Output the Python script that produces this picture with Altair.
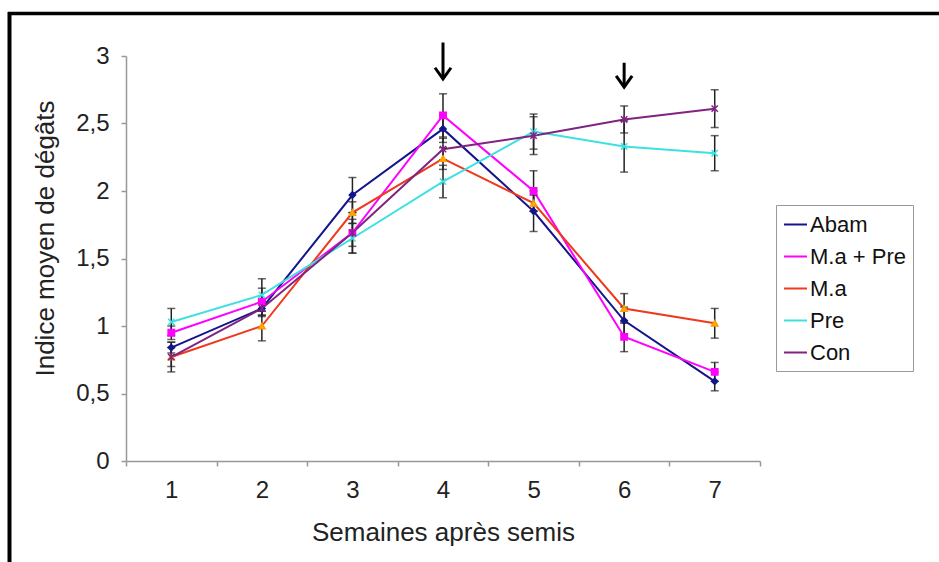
import altair as alt
import pandas as pd

weeks = ["1", "2", "3", "4", "5", "6", "7"]
series_names = ["Abam", "M.a + Pre", "M.a", "Pre", "Con"]

abam = [0.84, 1.13, 1.97, 2.46, 1.85, 1.04, 0.59]
mapre = [0.95, 1.18, 1.69, 2.56, 2.00, 0.92, 0.66]
ma = [0.77, 1.00, 1.84, 2.24, 1.91, 1.13, 1.02]
pre = [1.03, 1.23, 1.65, 2.07, 2.44, 2.33, 2.28]
con = [0.77, 1.13, 1.69, 2.31, 2.41, 2.53, 2.61]

abam_err = [0.04, 0.05, 0.13, 0.10, 0.15, 0.10, 0.07]
mapre_err = [0.05, 0.10, 0.10, 0.16, 0.15, 0.11, 0.07]
ma_err = [0.11, 0.11, 0.08, 0.08, 0.06, 0.11, 0.11]
pre_err = [0.10, 0.12, 0.11, 0.12, 0.13, 0.19, 0.13]
con_err = [0.07, 0.06, 0.15, 0.08, 0.14, 0.10, 0.14]

arrow_weeks = ["4", "6"]
arrow_top = [3.10, 2.95]
arrow_tip = [2.83, 2.77]

line_colors = ["#14148c", "#ff00ff", "#f0381c", "#3ee0e0", "#7f2480"]
marker_fill = ["#14148c", "#ff00ff", "#ffb400", "#3ee0e0", "#7f2480"]
marker_stroke = ["#14148c", "#ff00ff", "#ff9a00", "#3ee0e0", "#7f2480"]
marker_shapes = [
    "diamond",
    "square",
    "triangle-up",
    "M-1,-1L1,1M-1,1L1,-1",
    "M-1,-1L1,1M-1,1L1,-1M0,-1.3L0,1.3",
]

rows = []
for name, vals, errs in zip(series_names, [abam, mapre, ma, pre, con],
                            [abam_err, mapre_err, ma_err, pre_err, con_err]):
    for w, v, e in zip(weeks, vals, errs):
        rows.append({"week": w, "serie": name, "marker": name, "val": v,
                     "lo": v - e, "hi": v + e})
df = pd.DataFrame(rows)

arrows = pd.DataFrame({"week": arrow_weeks, "top": arrow_top, "tip": arrow_tip})

font = "Liberation Sans"

xenc = alt.X(
    "week:O",
    bandPosition=0.5,
    scale=alt.Scale(type="band", domain=weeks, paddingInner=0, paddingOuter=0),
    axis=alt.Axis(
        title="Semaines après semis",
        labelAngle=0,
        tickBand="extent",
        tickSize=5,
        labelPadding=12,
        titlePadding=17,
        domainColor="#999999",
        tickColor="#999999",
        domainWidth=1.5,
        tickWidth=1.5,
        labelFontSize=24,
        titleFontSize=26,
        labelColor="#222222",
        titleColor="#222222",
        labelFont=font,
        titleFont=font,
        titleFontWeight="normal",
    ),
)

yscale = alt.Scale(domain=[0, 3], nice=False, zero=True)
yaxis = alt.Axis(
    title="Indice moyen de dégâts",
    values=[0, 0.5, 1, 1.5, 2, 2.5, 3],
    labelExpr="replace(toString(datum.value), '.', ',')",
    grid=False,
    tickSize=5,
    labelPadding=12,
    domainColor="#999999",
    tickColor="#999999",
    domainWidth=1.5,
    tickWidth=1.5,
    labelFontSize=24,
    titleFontSize=26,
    labelColor="#222222",
    titleColor="#222222",
    labelFont=font,
    titleFont=font,
    titleFontWeight="normal",
    titleX=-68,
    titleY=182,
)

color_scale = alt.Scale(domain=series_names, range=line_colors)

lines = alt.Chart(df).mark_line(strokeWidth=2).encode(
    x=xenc,
    y=alt.Y("val:Q", scale=yscale, axis=yaxis),
    color=alt.Color(
        "serie:N",
        scale=color_scale,
        legend=alt.Legend(
            title=None,
            orient="none",
            legendX=650,
            legendY=149,
            symbolType="stroke",
            symbolSize=529,
            symbolStrokeWidth=2,
            labelFontSize=22,
            labelFont=font,
            labelColor="#111111",
            labelOffset=2,
            rowPadding=8,
            padding=7,
            strokeColor="#999999",
            fillColor="white",
            cornerRadius=0,
        ),
    ),
    order=alt.Order("week:O"),
)

rules = alt.Chart(df).mark_rule(color="#222222", strokeWidth=1.5).encode(
    x=xenc, y=alt.Y("lo:Q", scale=yscale), y2="hi:Q"
)
caps_lo = alt.Chart(df).mark_tick(color="#222222", size=8, thickness=1.5).encode(
    x=xenc, y=alt.Y("lo:Q", scale=yscale)
)
caps_hi = alt.Chart(df).mark_tick(color="#222222", size=8, thickness=1.5).encode(
    x=xenc, y=alt.Y("hi:Q", scale=yscale)
)

points = alt.Chart(df).mark_point(filled=True, opacity=1, strokeWidth=1.5, size=40).encode(
    x=xenc,
    y=alt.Y("val:Q", scale=yscale),
    shape=alt.Shape("marker:N", scale=alt.Scale(domain=series_names, range=marker_shapes), legend=None),
    fill=alt.Fill("marker:N", scale=alt.Scale(domain=series_names, range=marker_fill), legend=None),
    stroke=alt.Stroke("marker:N", scale=alt.Scale(domain=series_names, range=marker_stroke), legend=None),
)

arrow_shaft = alt.Chart(arrows).mark_rule(color="black", strokeWidth=3).encode(
    x=xenc, y=alt.Y("top:Q", scale=yscale), y2="tip:Q"
)
arrow_head = alt.Chart(arrows).mark_point(
    shape="M-1,-1.4L0,0L1,-1.4", size=256, filled=False, color="black",
    strokeWidth=3, opacity=1, strokeJoin="miter"
).encode(x=xenc, y=alt.Y("tip:Q", scale=yscale))

one = pd.DataFrame({"a": [0]})
frame_top = alt.Chart(one).mark_rule(color="black", strokeWidth=3.5).encode(
    x=alt.value(-118), x2=alt.value(813), y=alt.value(-42.5)
)
frame_left = alt.Chart(one).mark_rule(color="black", strokeWidth=4).encode(
    x=alt.value(-116.5), y=alt.value(-44), y2=alt.value(506)
)

chart = alt.layer(
    lines, rules, caps_lo, caps_hi, points, arrow_shaft, arrow_head, frame_top, frame_left
).resolve_legend(
    color="independent", shape="independent", fill="independent", stroke="independent"
).properties(
    width=634,
    height=405,
    autosize=alt.AutoSizeParams(type="none"),
    padding={"left": 126, "top": 56, "right": 179, "bottom": 101},
    background="white",
).configure_view(stroke=None)

chart.save("out.html", embed_options={"renderer": "svg", "actions": False})
